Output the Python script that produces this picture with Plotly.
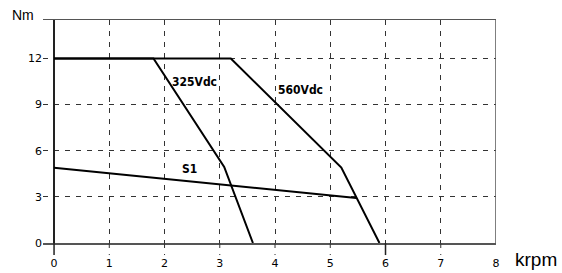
import plotly.graph_objects as go

# Data
v325_x = [0, 1.8, 3.08, 3.6]
v325_y = [12, 12, 4.95, 0]
v560_x = [0, 3.2, 5.2, 5.89]
v560_y = [12, 12, 4.9, 0]
s1_x = [0, 5.47]
s1_y = [4.9, 2.92]
x_ticks = [0, 1, 2, 3, 4, 5, 6, 7, 8]
y_ticks = [0, 3, 6, 9, 12]
labels = ["325Vdc", "560Vdc", "S1"]
label_x = [2.54, 4.46, 2.46]
label_y = [10.5, 9.95, 4.8]

fig = go.Figure()
for xs, ys in [(v325_x, v325_y), (v560_x, v560_y), (s1_x, s1_y)]:
    fig.add_trace(go.Scatter(x=xs, y=ys, mode="lines",
                             line=dict(color="black", width=2), showlegend=False,
                             hoverinfo="skip"))

for t, lx, ly in zip(labels, label_x, label_y):
    fig.add_annotation(x=lx, y=ly, text="<b>" + t + "</b>", showarrow=False,
                       font=dict(family="DejaVu Sans Condensed, DejaVu Sans", size=12, color="black"))

fig.add_annotation(xref="paper", yref="paper", x=-0.0435, y=1.022, text="Nm", showarrow=False,
                   xanchor="center", yanchor="middle",
                   font=dict(family="Liberation Sans, Arial", size=14, color="black"))
fig.add_annotation(xref="paper", yref="paper", x=1.089, y=-0.076, text="krpm", showarrow=False,
                   xanchor="center", yanchor="middle",
                   font=dict(family="Liberation Sans, Arial", size=19, color="black"))

# right border
fig.add_shape(type="line", xref="x", yref="paper", x0=8, x1=8, y0=0, y1=1,
              line=dict(color="#555", width=1.5))

# grid extensions below the x axis
for xv in x_ticks[:-1]:
    solid = xv in (0, 6)
    fig.add_shape(type="line", xref="x", yref="paper", x0=xv, x1=xv, y0=0, y1=-0.054,
                  line=dict(color="#222" if solid else "#333", width=1.5 if solid else 1,
                            dash="solid" if solid else "5px,6px"))

fig.update_xaxes(range=[-0.2, 8], tickvals=x_ticks, ticktext=[str(v) for v in x_ticks],
                 showgrid=True, gridcolor="#333", griddash="5px,6px", gridwidth=1,
                 zeroline=True, zerolinecolor="#222", zerolinewidth=1.5,
                 showline=True, linecolor="#555", linewidth=1.5, mirror=True,
                 ticks="outside", ticklen=9, tickcolor="rgba(0,0,0,0)",
                 tickfont=dict(family="DejaVu Sans", size=11, color="black"))
fig.update_yaxes(range=[0, 14.5], tickvals=y_ticks, ticktext=[str(v) for v in y_ticks],
                 showgrid=True, gridcolor="#333", griddash="5px,6px", gridwidth=1,
                 zeroline=False, showline=False, ticks="",
                 tickfont=dict(family="DejaVu Sans", size=11, color="black"))

fig.update_layout(width=562, height=273,
                  margin=dict(l=43, r=66, t=20, b=30, autoexpand=False),
                  plot_bgcolor="white", paper_bgcolor="white", hovermode=False)
fig.write_html("out.html", config={"displayModeBar": False, "staticPlot": True},
               post_script="document.body.style.margin='0px';document.body.style.overflow='hidden';")
